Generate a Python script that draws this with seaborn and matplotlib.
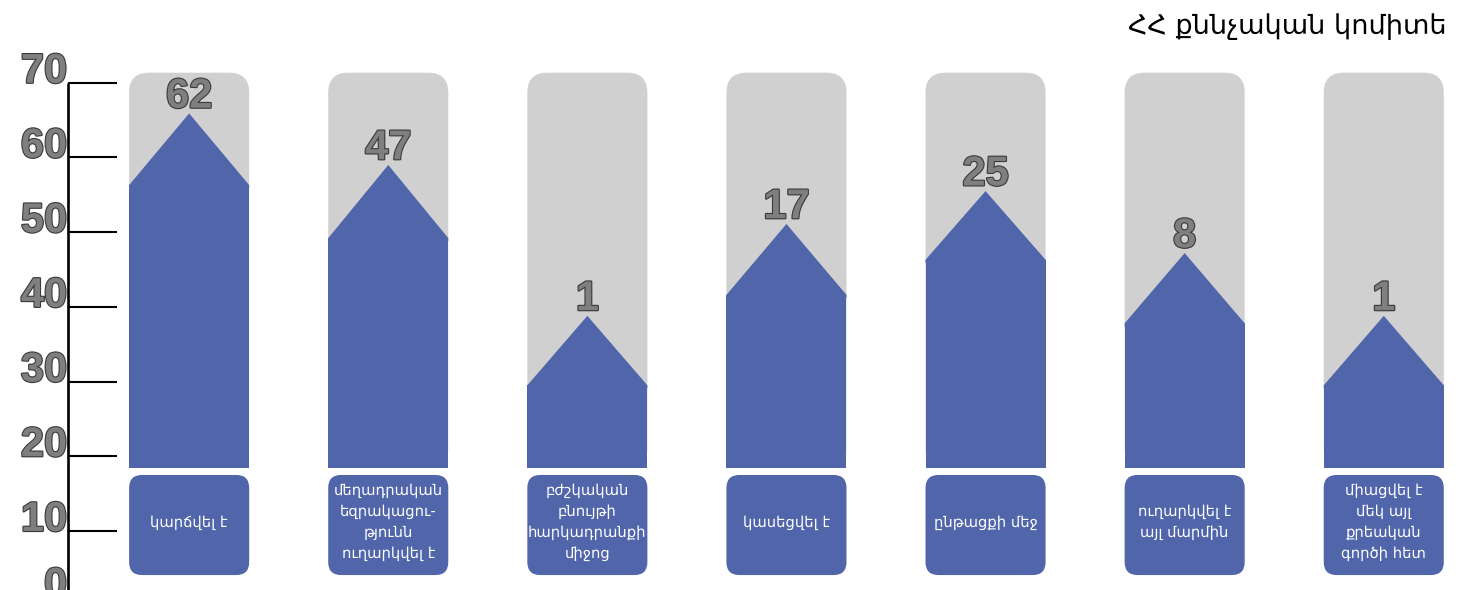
import matplotlib
matplotlib.use("Agg")
import matplotlib.pyplot as plt
import matplotlib.patheffects as pe
from matplotlib.patches import FancyBboxPatch
import seaborn as sns
import pandas as pd

# ---- data ----
categories = [
    "կարճվել է",
    "մեղադրական\nեզրակացու-\nթյունն\nուղարկվել է",
    "բժշկական\nբնույթի\nհարկադրանքի\nմիջոց",
    "կասեցվել է",
    "ընթացքի մեջ",
    "ուղարկվել է\nայլ մարմին",
    "միացվել է\nմեկ այլ\nքրեական\nգործի հետ",
]
values = [62, 47, 1, 17, 25, 8, 1]
# visual heights of the arrow shapes (read on the drawn 0-70 scale)
shoulder_heights = [56.3, 49.2, 29.5, 41.6, 46.3, 37.8, 29.5]
peak_heights = [65.9, 59.0, 38.8, 51.1, 55.5, 47.2, 38.8]
y_ticks = [0, 10, 20, 30, 40, 50, 60, 70]
title = "ՀՀ քննչական կոմիտե"

# ---- style ----
BLUE = "#5065AA"
GRAY_BG = "#D0D0D0"
NUM_GRAY = "#7F7F7F"
OUTLINE = "#3A3A3A"
BASE = 18.43      # bottom of bars
BG_TOP = 71.35    # top of grey backgrounds
BOX_TOP, BOX_BOT = 17.5, 4.1
W = 0.603

sns.set_style("white")
plt.rcParams["font.family"] = ["DejaVu Sans"]

fig = plt.figure(figsize=(14.65, 5.9), dpi=100)
ax = fig.add_axes([0, 0, 1, 1])

df = pd.DataFrame({"cat": categories,
                   "h": [s - BASE for s in shoulder_heights]})

n = len(categories)
aspect = 199.1 / 7.47

# grey rounded backgrounds
for i in range(n):
    ax.add_patch(FancyBboxPatch((i - W / 2, BASE), W, BG_TOP - BASE,
                                boxstyle="round,pad=0,rounding_size=0.10",
                                mutation_aspect=aspect, fc=GRAY_BG, ec="none",
                                zorder=1))

# blue bars (body of arrows)
sns.barplot(data=df, x="cat", y="h", color=BLUE, saturation=1, width=W,
            bottom=BASE, linewidth=0, ax=ax, zorder=2)

# arrow tips (slightly overlapping the body to avoid a seam)
for i, (s, p) in enumerate(zip(shoulder_heights, peak_heights)):
    ax.fill([i - W / 2, i - W / 2, i, i + W / 2, i + W / 2],
            [s - 0.4, s, p, s, s - 0.4], color=BLUE, lw=0, zorder=2.5)

# value labels
outline = [pe.withStroke(linewidth=1.6, foreground=OUTLINE)]
for i, (v, p) in enumerate(zip(values, peak_heights)):
    ax.text(i, p + 0.76, str(v), ha="center", va="baseline", fontsize=30,
            fontweight="bold", family="Liberation Sans", color=NUM_GRAY,
            path_effects=outline, zorder=3)

# category label boxes
for i, c in enumerate(categories):
    ax.add_patch(FancyBboxPatch((i - W / 2, BOX_BOT), W, BOX_TOP - BOX_BOT,
                                boxstyle="round,pad=0,rounding_size=0.065",
                                mutation_aspect=aspect, fc=BLUE, ec="none",
                                zorder=2))
    ax.text(i, 11.2, c, ha="center", va="center", color="white",
            fontsize=10.6, linespacing=1.5, zorder=3)

# x / y range
ax.set_xlim(-0.950, 6.408)
ax.set_ylim(2.1, 81.08)
ax.set_xticks([])
ax.set_yticks([])
ax.set_xlabel("")
ax.set_ylabel("")
for sp in ax.spines.values():
    sp.set_visible(False)

# decorative value axis
x_sp = -0.608
x_tick_end = -0.362
ax.plot([x_sp, x_sp], [-5, max(y_ticks)], color="black", lw=1.9,
        solid_capstyle="butt", zorder=3)
ax.hlines([t for t in y_ticks if t > 0], x_sp, x_tick_end, color="black",
          lw=1.5, zorder=3)
for t in y_ticks:
    ax.text(x_sp - 0.005, t + (1.2 if t == 0 else 0), str(t), ha="right",
            va="baseline", fontsize=30, fontweight="bold",
            family="Liberation Sans", color=NUM_GRAY,
            path_effects=outline, zorder=3)

# title
ax.text(6.318, 77.47, title, ha="right", va="center", fontsize=19.5,
        color="black")

fig.savefig("out.png", dpi=100)
